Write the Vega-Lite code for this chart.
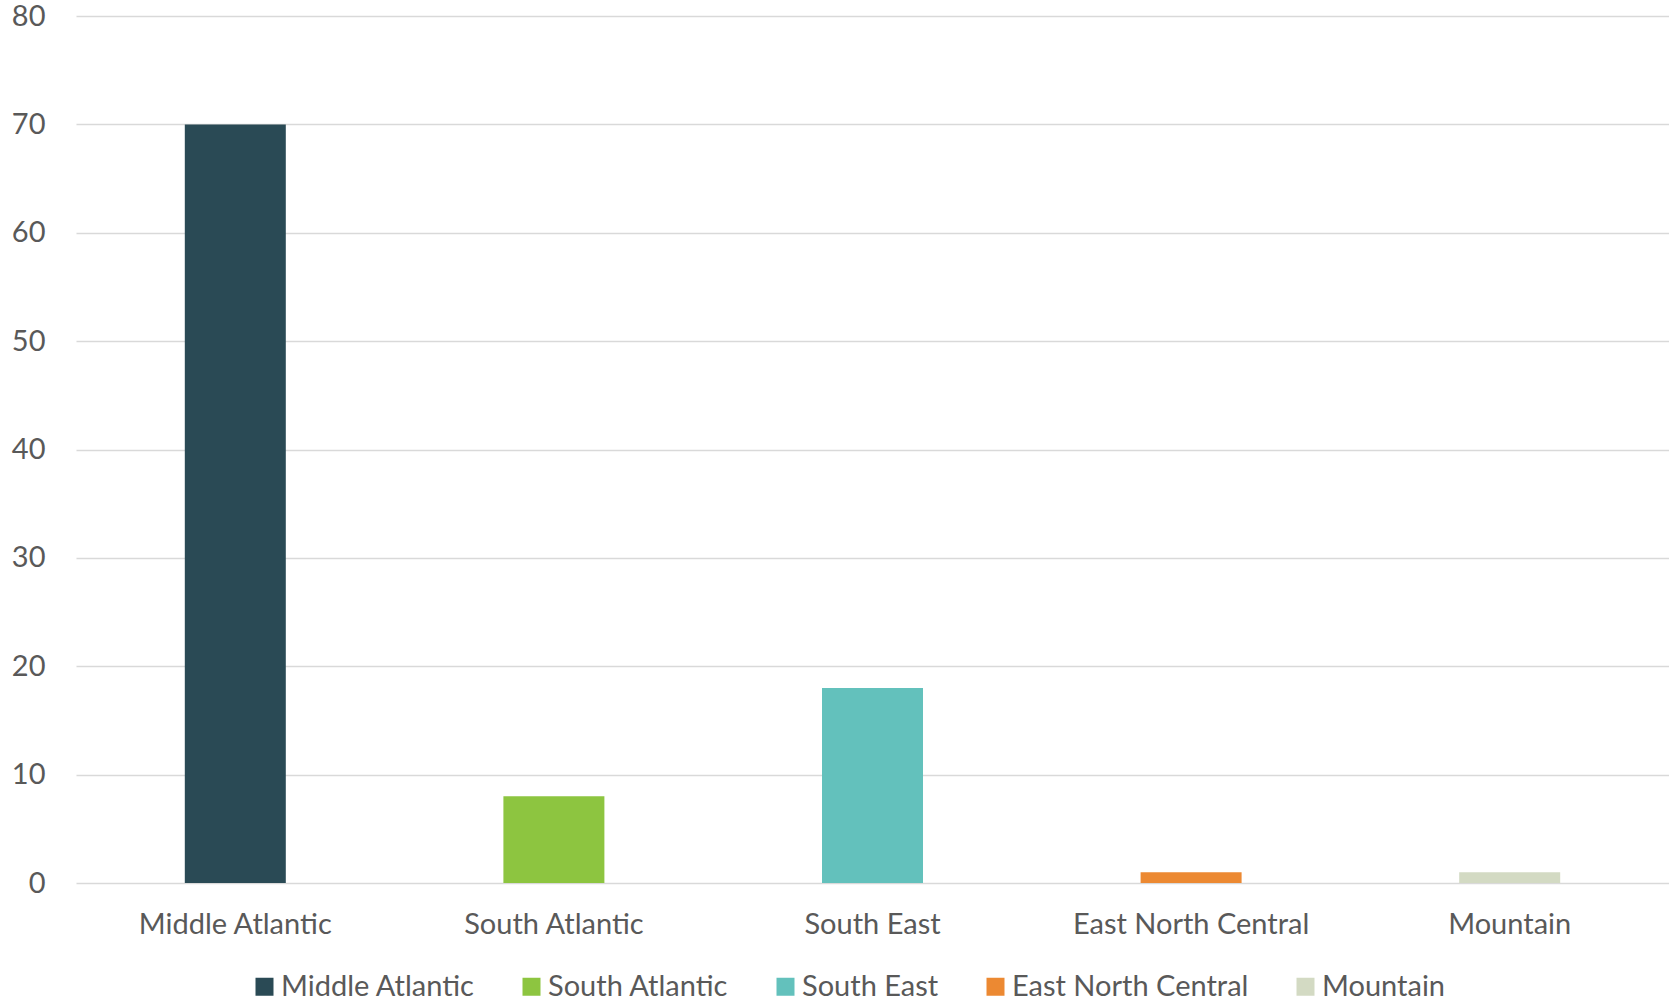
{
  "$schema": "https://vega.github.io/schema/vega-lite/v6.json",
  "autosize": {"type": "none"},
  "padding": {"left": 76, "top": 16, "right": 0, "bottom": 125},
  "width": 1593,
  "height": 867,
  "background": "#ffffff",
  "data": {
    "values": [
      {"region": "Middle Atlantic", "value": 70},
      {"region": "South Atlantic", "value": 8},
      {"region": "South East", "value": 18},
      {"region": "East North Central", "value": 1},
      {"region": "Mountain", "value": 1}
    ]
  },
  "mark": {"type": "bar"},
  "encoding": {
    "x": {
      "field": "region",
      "type": "nominal",
      "sort": null,
      "scale": {"paddingInner": 0.683, "paddingOuter": 0.3415},
      "axis": {
        "title": null,
        "labelAngle": 0,
        "grid": false,
        "ticks": false,
        "tickSize": 0,
        "domain": false,
        "labelLimit": 0,
        "labelPadding": 27,
        "labelFont": "Lato",
        "labelFontSize": 29,
        "labelColor": "#595959"
      }
    },
    "y": {
      "field": "value",
      "type": "quantitative",
      "scale": {"domain": [0, 80], "nice": false},
      "axis": {
        "title": null,
        "grid": true,
        "values": [0, 10, 20, 30, 40, 50, 60, 70, 80],
        "ticks": false,
        "tickSize": 0,
        "domain": false,
        "labelPadding": 31,
        "labelFont": "Lato",
        "labelFontSize": 29,
        "labelColor": "#595959",
        "gridColor": "#d9d9d9",
        "gridWidth": 1.5
      }
    },
    "color": {
      "field": "region",
      "type": "nominal",
      "sort": null,
      "scale": {
        "domain": ["Middle Atlantic", "South Atlantic", "South East", "East North Central", "Mountain"],
        "range": ["#2a4a55", "#8dc540", "#63c1bc", "#ec8932", "#d3dac3"]
      },
      "legend": {
        "title": null,
        "orient": "none",
        "legendX": 174,
        "legendY": 956,
        "direction": "horizontal",
        "symbolType": "square",
        "symbolSize": 324,
        "symbolStrokeWidth": 0,
        "symbolOpacity": 1,
        "labelFont": "Lato",
        "labelFontSize": 29,
        "labelColor": "#595959",
        "labelLimit": 0,
        "labelOffset": 2,
        "columnPadding": 42
      }
    }
  },
  "config": {
    "view": {"stroke": null}
  }
}
